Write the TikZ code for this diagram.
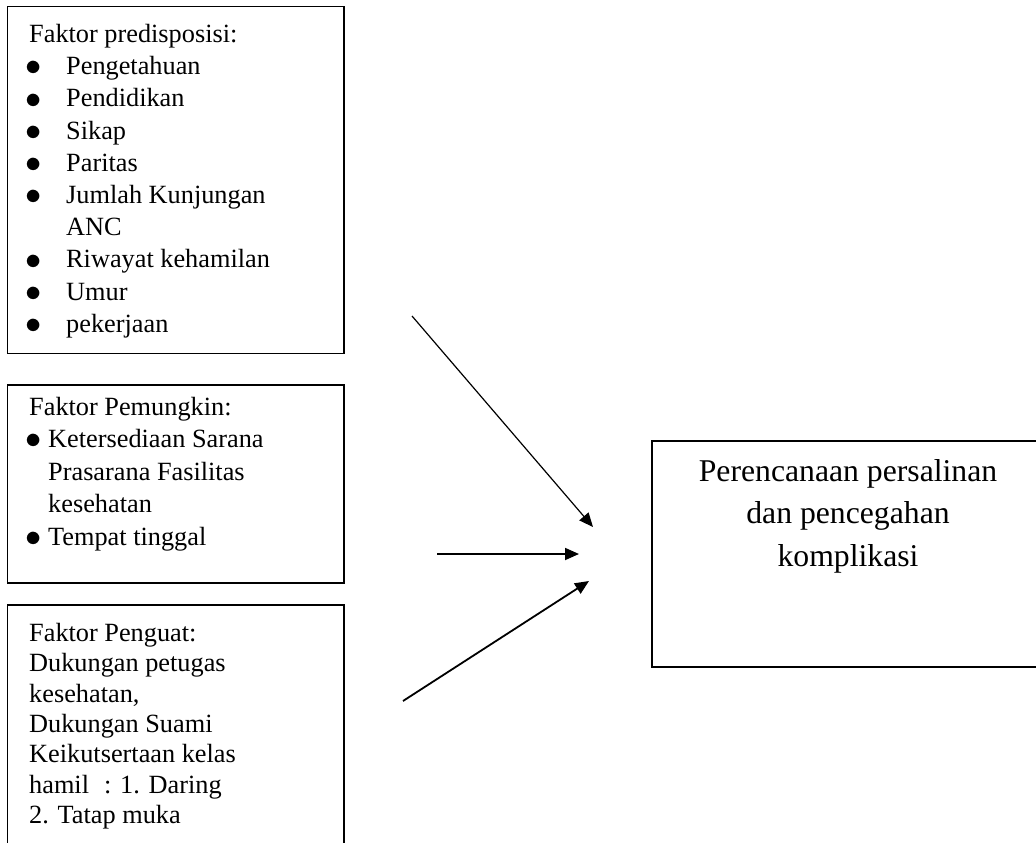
\documentclass[tikz,border=0pt]{standalone}
\usepackage{fontspec}
\setmainfont{Liberation Serif}
\usetikzlibrary{arrows.meta}
\newcommand\mybul{\makebox[8pt][c]{\raisebox{-1.2pt}{\scalebox{1.3}{$\bullet$}}}}
\newcommand\bulA[1]{\mybul\hspace{29pt}#1}
\newcommand\indA[1]{\hspace{37pt}#1}
\newcommand\bulB[1]{\mybul\hspace{11pt}#1}
\newcommand\indB[1]{\hspace{19pt}#1}
\begin{document}
\begin{tikzpicture}[x=1pt,y=-1pt,
  box/.style={draw, line width=1.7pt, inner sep=0pt, outer sep=0pt, anchor=north west},
  txt/.style={inner sep=0pt, anchor=base west},
  arr/.style={line width=1.8pt, -{Triangle[length=14pt,width=12pt]}}]
\useasboundingbox (0,0) rectangle (1036,843);
\clip (0,0) rectangle (1036,843);
% boxes
\node[box, minimum width=336.5pt, minimum height=347pt] (b1) at (7.5,6.5) {};
\node[box, minimum width=336.5pt, minimum height=198pt] (b2) at (7.5,385) {};
\node[box, minimum width=336.5pt, minimum height=300pt] (b3) at (7.5,605) {};
\node[box, minimum width=450pt, minimum height=226pt] (b4) at (652,441) {};
% texts
\node[txt, font=\fontsize{26.3}{32.2}\selectfont] (t1) at (29,42.5) {\begin{tabular}[t]{@{}l@{}}
Faktor predisposisi:\\
\bulA{Pengetahuan}\\
\bulA{Pendidikan}\\
\bulA{Sikap}\\
\bulA{Paritas}\\
\bulA{Jumlah Kunjungan}\\
\indA{ANC}\\
\bulA{Riwayat kehamilan}\\
\bulA{Umur}\\
\bulA{pekerjaan}
\end{tabular}};
\node[txt, font=\fontsize{26.3}{32.5}\selectfont] (t2) at (29,415) {\begin{tabular}[t]{@{}l@{}}
Faktor Pemungkin:\\
\bulB{Ketersediaan Sarana}\\
\indB{Prasarana Fasilitas}\\
\indB{kesehatan}\\
\bulB{Tempat tinggal}
\end{tabular}};
\node[txt, font=\fontsize{26.3}{30.3}\selectfont] (t3) at (29,641.5) {\begin{tabular}[t]{@{}l@{}}
Faktor Penguat:\\
Dukungan petugas\\
kesehatan,\\
Dukungan Suami\\
Keikutsertaan kelas\\
hamil\hspace{15pt}: 1. Daring\\
2. Tatap muka
\end{tabular}};
\node[inner sep=0pt, anchor=base, font=\fontsize{31.7}{42.5}\selectfont] (t4) at (848,481) {\begin{tabular}[t]{@{}c@{}}
Perencanaan persalinan\\
dan pencegahan\\
komplikasi
\end{tabular}};
% arrows
\coordinate (s1) at (412,316); \coordinate (e1) at (593,527);
\coordinate (s2) at (437,554); \coordinate (e2) at (579,554);
\coordinate (s3) at (403,701); \coordinate (e3) at (589,581);
\draw[arr, line width=1.2pt] (s1) -- (e1);
\draw[arr] (s2) -- (e2);
\draw[arr] (s3) -- (e3);
\end{tikzpicture}
\end{document}
